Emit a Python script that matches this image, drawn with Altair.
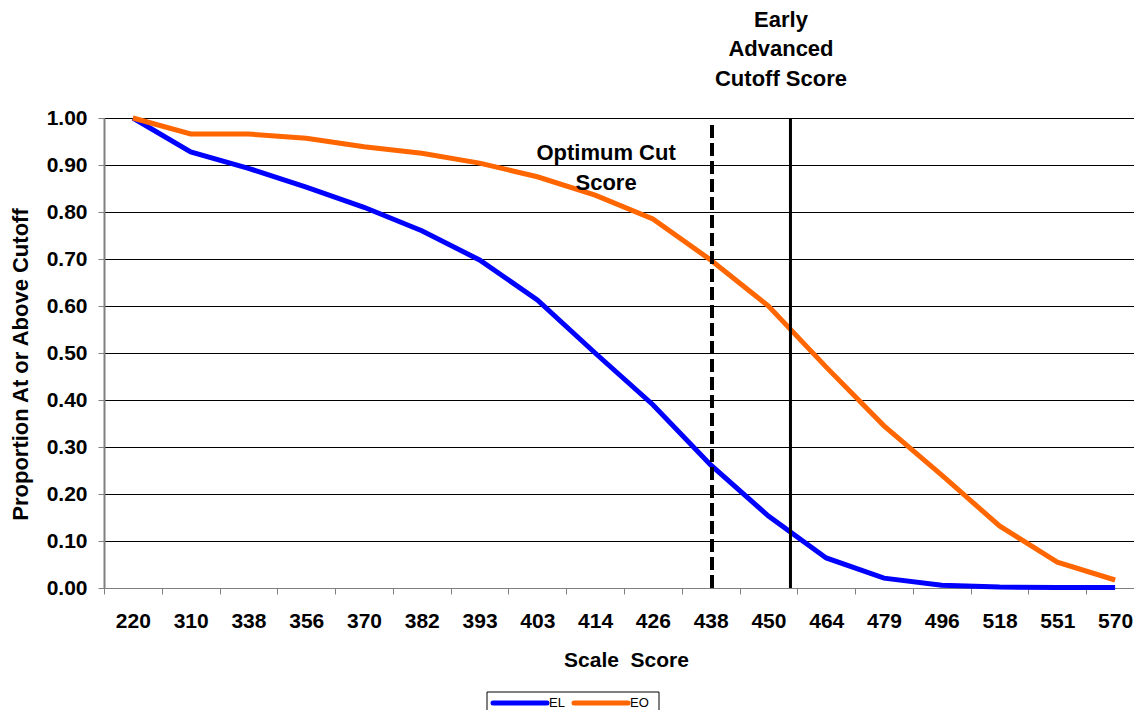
import altair as alt
import pandas as pd

FONT = "Liberation Sans"

scores = ["220", "310", "338", "356", "370", "382", "393", "403", "414",
          "426", "438", "450", "464", "479", "496", "518", "551", "570"]
el = [1.00, 0.928, 0.893, 0.853, 0.810, 0.760, 0.698, 0.613, 0.500,
      0.390, 0.262, 0.153, 0.064, 0.021, 0.006, 0.002, 0.001, 0.001]
eo = [1.00, 0.966, 0.966, 0.957, 0.939, 0.925, 0.904, 0.875, 0.836,
      0.785, 0.698, 0.600, 0.470, 0.345, 0.240, 0.132, 0.055, 0.017]
series_names = ["EL", "EO"]
series_colors = ["#0000FF", "#FF6600"]
y_ticks = [0.0, 0.1, 0.2, 0.3, 0.4, 0.5, 0.6, 0.7, 0.8, 0.9, 1.0]

rows = []
for s, vals in zip(series_names, [el, eo]):
    for sc, v in zip(scores, vals):
        rows.append({"score": sc, "value": v, "series": s})
df = pd.DataFrame(rows)

x_axis = alt.Axis(
    title="Scale\u00a0 Score", labelAngle=0, tickBand="extent", grid=False,
    labelFont=FONT, labelFontSize=21, labelFontWeight="bold", labelColor="black",
    titleFont=FONT, titleFontSize=21, titleFontWeight="bold", titleColor="black",
    labelPadding=16, titlePadding=18, titleX=522, tickSize=6, tickColor="#808080",
    domainColor="#808080", domainWidth=1,
)
y_axis = alt.Axis(
    title="Proportion At or Above Cutoff", values=y_ticks, format=".2f",
    grid=True, gridColor="black", gridWidth=1,
    labelFont=FONT, labelFontSize=21, labelFontWeight="bold", labelColor="black",
    titleFont=FONT, titleFontSize=22, titleFontWeight="bold", titleColor="black",
    labelPadding=11, titlePadding=14, titleY=246, tickSize=6, tickColor="#808080",
    domainColor="#808080", domainWidth=2,
)
yscale = alt.Scale(domain=[0, 1], nice=False)
xscale = alt.Scale(range=[0, 1040], paddingInner=0, paddingOuter=0)

lines = alt.Chart(df).mark_line(strokeWidth=5).encode(
    x=alt.X("score:N", sort=scores, axis=x_axis, scale=xscale),
    y=alt.Y("value:Q", scale=yscale, axis=y_axis),
    color=alt.Color(
        "series:N",
        scale=alt.Scale(domain=series_names, range=series_colors),
        legend=None,
    ),
)

opt_df = pd.DataFrame({"score": ["438"], "y0": [0.0], "y1": [0.985]})
dash_rule = alt.Chart(opt_df).mark_rule(strokeDash=[13, 5], strokeWidth=4, color="black").encode(
    x=alt.X("score:N", sort=scores, bandPosition=0.523),
    y=alt.Y("y0:Q", scale=yscale),
    y2="y1:Q",
)

adv_df = pd.DataFrame({"score": ["450"], "y0": [0.0], "y1": [1.0]})
solid_rule = alt.Chart(adv_df).mark_rule(strokeWidth=3, color="black").encode(
    x=alt.X("score:N", sort=scores, bandPosition=0.881),
    y=alt.Y("y0:Q", scale=yscale),
    y2="y1:Q",
)

opt_text_df = pd.DataFrame({"score": ["414", "414"], "y": [0.925, 0.862],
                            "t": ["Optimum Cut", "Score"]})
opt_text = alt.Chart(opt_text_df).mark_text(
    font=FONT, fontSize=22, fontWeight="bold", color="black", baseline="middle", align="center"
).encode(
    x=alt.X("score:N", sort=scores, bandPosition=0.69),
    y=alt.Y("y:Q", scale=yscale),
    text="t:N",
)

adv_text_df = pd.DataFrame({"score": ["450", "450", "450"], "y": [1.209, 1.146, 1.083],
                            "t": ["Early", "Advanced", "Cutoff Score"]})
adv_text = alt.Chart(adv_text_df).mark_text(
    font=FONT, fontSize=22, fontWeight="bold", color="black", baseline="middle", align="center"
).encode(
    x=alt.X("score:N", sort=scores, bandPosition=0.717),
    y=alt.Y("y:Q", scale=yscale),
    text="t:N",
)

# legend drawn as a boxed row below the axis title (pixel layout relative to plot origin)
one = pd.DataFrame({"k": [0]})
LEG_X, LEG_Y, LEG_W, LEG_H = 383, 574, 172, 46
ITEM_STEP, PAD, LINE_LEN, ROW_Y = 81, 6, 54, 585

legend_layers = [
    alt.Chart(one).mark_rect(fill="white", stroke="black", strokeWidth=1).encode(
        x=alt.value(LEG_X), x2=alt.value(LEG_X + LEG_W),
        y=alt.value(LEG_Y), y2=alt.value(LEG_Y + LEG_H),
    )
]
for i, (name, col) in enumerate(zip(series_names, series_colors)):
    x0 = LEG_X + PAD + i * ITEM_STEP
    legend_layers.append(
        alt.Chart(one).mark_rule(strokeWidth=5, strokeCap="round", color=col).encode(
            x=alt.value(x0), x2=alt.value(x0 + LINE_LEN), y=alt.value(ROW_Y),
        )
    )
    legend_layers.append(
        alt.Chart(one).mark_text(
            font=FONT, fontSize=13, color="black", align="left", baseline="middle"
        ).encode(
            x=alt.value(x0 + LINE_LEN + 2), y=alt.value(ROW_Y), text=alt.value(name),
        )
    )

chart = alt.layer(lines, dash_rule, solid_rule, opt_text, adv_text, *legend_layers).properties(
    width=1030, height=470,
    autosize=alt.AutoSizeParams(type="none"),
    padding={"left": 96, "top": 110, "right": 0, "bottom": 122},
    background="white",
).configure_view(stroke=None)

chart.save("out.html", embed_options={"renderer": "svg", "actions": False})
